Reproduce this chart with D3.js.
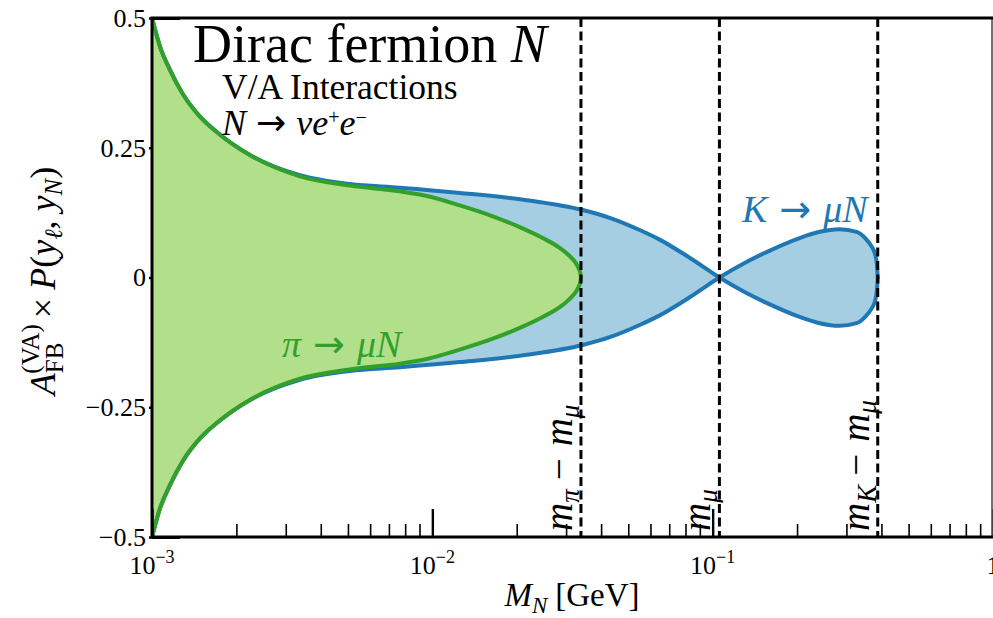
<!DOCTYPE html>
<html>
<head>
<meta charset="utf-8">
<script src="https://cdn.jsdelivr.net/npm/d3@7/dist/d3.min.js"></script>
<style>
  html, body { margin: 0; padding: 0; background: #fff; }
  svg { display: block; }
  text { font-family: "Liberation Serif", "DejaVu Serif", serif; fill: #000; }
  .arrow { font-family: "DejaVu Sans", sans-serif; }
</style>
</head>
<body>
<svg id="chart" width="993" height="618"></svg>
<script>
// Heavy neutral lepton mass M_N [GeV] and the upper edge of the band
// A_FB^(VA) x P(y_l, y_N); each band is symmetric, lower edge = -upper.
const piMass  = [0.001, 0.001068, 0.001159, 0.00129, 0.001483, 0.001706, 0.002236,
                 0.00337, 0.00508, 0.00766, 0.00956, 0.01253, 0.01643, 0.02051,
                 0.02476, 0.02848, 0.03092, 0.03248, 0.03329, 0.03370, 0.0339];
const piUpper = [0.500, 0.445, 0.400, 0.353, 0.310, 0.280, 0.236,
                 0.195, 0.177, 0.166, 0.157, 0.139, 0.118, 0.097,
                 0.076, 0.057, 0.041, 0.028, 0.0175, 0.009, 0.0];

const kMass   = [0.001, 0.001068, 0.001159, 0.00129, 0.001483, 0.001706, 0.002236,
                 0.00337, 0.00508, 0.00766, 0.01253, 0.02173, 0.0344, 0.04293,
                 0.0549, 0.0647, 0.0828, 0.1057, 0.130, 0.1557, 0.2042, 0.2407,
                 0.2837, 0.3262, 0.3512, 0.3687, 0.3795, 0.3852, 0.388];
const kUpper  = [0.500, 0.445, 0.400, 0.353, 0.310, 0.280, 0.236,
                 0.197, 0.180, 0.173, 0.163, 0.149, 0.130, 0.115,
                 0.0915, 0.073, 0.038, 0.0, -0.028, -0.049, -0.076, -0.088,
                 -0.093, -0.088, -0.075, -0.060, -0.045, -0.025, 0.0];

// Kinematic thresholds [GeV]: m_pi - m_mu, m_mu, m_K - m_mu
const thresholdMass  = [0.0339, 0.1057, 0.3880];
const thresholdNames = ["pi", "mu", "K"];

const xMajorTicks = [0.001, 0.01, 0.1, 1];
const xTickExponents = ["\u22123", "\u22122", "\u22121", ""];
const yTicks = [-0.5, -0.25, 0, 0.25, 0.5];
const yTickLabels = ["\u22120.5", "\u22120.25", "0", "0.25", "0.5"];

const colors = {
  kLine: "#1f78b4", kFill: "#a6cee3",
  piLine: "#33a02c", piFill: "#b2df8a"
};

const svg = d3.select("#chart");
const plotL = 152, plotR = 993, plotT = 18, plotB = 537;

const x = d3.scaleLog().domain([1e-3, 1]).range([plotL, plotR]);
const y = d3.scaleLinear().domain([-0.5, 0.5]).range([plotB, plotT]);

svg.append("defs").append("clipPath").attr("id", "plotClip")
  .append("rect").attr("x", plotL).attr("y", plotT).attr("width", plotR - plotL).attr("height", plotB - plotT);

const plot = svg.append("g").attr("clip-path", "url(#plotClip)");

const kData = kMass.map((m, i) => ({ m, v: kUpper[i] }));
const piData = piMass.map((m, i) => ({ m, v: piUpper[i] }));

const curve = d3.curveMonotoneX;
const area = d3.area().curve(curve).x(d => x(d.m)).y0(d => y(-d.v)).y1(d => y(d.v));
const lineUp = d3.line().curve(curve).x(d => x(d.m)).y(d => y(d.v));
const lineDn = d3.line().curve(curve).x(d => x(d.m)).y(d => y(-d.v));

// Filled bands
plot.append("path").datum(kData).attr("d", area).attr("fill", colors.kFill);
plot.append("path").datum(piData).attr("d", area).attr("fill", colors.piFill);

// Band edges
const drawEdges = (data, color) => {
  [lineUp, lineDn].forEach(gen => {
    plot.append("path").datum(data).attr("d", gen)
      .attr("fill", "none").attr("stroke", color).attr("stroke-width", 4)
      .attr("stroke-linejoin", "round").attr("stroke-linecap", "round");
  });
};
drawEdges(kData, colors.kLine);
drawEdges(piData, colors.piLine);

// Threshold lines
plot.selectAll("line.thr").data(thresholdMass).enter().append("line")
  .attr("class", "thr")
  .attr("x1", d => x(d)).attr("x2", d => x(d))
  .attr("y1", plotT).attr("y2", plotB)
  .attr("stroke", "#000").attr("stroke-width", 3)
  .attr("stroke-dasharray", "9,4.5");

// Threshold labels, rotated along the dashed lines
const thrLabel = (name, g) => {
  const t = g.append("text").attr("font-size", 39);
  t.append("tspan").attr("font-style", "italic").text("m");
  if (name !== "mu") {
    t.append("tspan").attr("font-style", "italic").attr("font-size", 27).attr("dy", 7)
      .text(name === "pi" ? "\u03c0" : "K");
    t.append("tspan").attr("dy", -7).attr("dx", 9).text("\u2212");
    t.append("tspan").attr("font-style", "italic").attr("dx", 12).text("m");
    t.append("tspan").attr("font-style", "italic").attr("font-size", 27).attr("dy", 7).text("\u03bc");
  } else {
    t.append("tspan").attr("font-style", "italic").attr("font-size", 27).attr("dy", 7).text("\u03bc");
  }
};
thresholdMass.forEach((m, i) => {
  const g = svg.append("g").attr("transform", `translate(${x(m) - 9},531) rotate(-90)`);
  thrLabel(thresholdNames[i], g);
});

// Axes: minor and major ticks pointing inward
const minorVals = [];
[-3, -2, -1].forEach(e => { for (let k = 2; k <= 9; k++) minorVals.push(k * Math.pow(10, e)); });

svg.append("g").attr("transform", `translate(0,${plotB})`)
  .call(d3.axisBottom(x).tickValues(minorVals).tickSize(-13).tickFormat(""))
  .call(g => g.select(".domain").remove())
  .call(g => g.selectAll("line").attr("stroke", "#000").attr("stroke-width", 1.6));

svg.append("g").attr("transform", `translate(0,${plotB})`)
  .call(d3.axisBottom(x).tickValues(xMajorTicks).tickSize(-28).tickFormat(""))
  .call(g => g.select(".domain").remove())
  .call(g => g.selectAll("line").attr("stroke", "#000").attr("stroke-width", 2.4));

svg.append("g").attr("transform", `translate(${plotL},0)`)
  .call(d3.axisLeft(y).tickValues(yTicks).tickSize(3).tickFormat(""))
  .call(g => g.select(".domain").remove())
  .call(g => g.selectAll("line").attr("stroke", "#000").attr("stroke-width", 2.4));

svg.append("g").attr("transform", `translate(${plotL},0)`)
  .call(d3.axisLeft(y).tickValues([-0.5, 0.5]).tickSize(-28).tickFormat(""))
  .call(g => g.select(".domain").remove())
  .call(g => g.selectAll("line").attr("stroke", "#000").attr("stroke-width", 3));

// Frame
svg.append("line").attr("x1", plotR - 1).attr("x2", plotR - 1).attr("y1", plotT).attr("y2", plotB)
  .attr("stroke", "#444").attr("stroke-width", 1.5);
svg.append("path")
  .attr("d", `M${plotR},${plotT}H${plotL}V${plotB}H${plotR}`)
  .attr("fill", "none").attr("stroke", "#000").attr("stroke-width", 3);

// Tick labels
yTicks.forEach((v, i) => {
  svg.append("text").attr("x", 146).attr("y", y(v)).attr("dy", "0.34em")
    .attr("text-anchor", "end").attr("font-size", 26).text(yTickLabels[i]);
});
xMajorTicks.forEach((v, i) => {
  const t = svg.append("text").attr("x", x(v)).attr("y", 574)
    .attr("text-anchor", "middle").attr("font-size", 26);
  if (xTickExponents[i] === "") { t.text("1"); return; }
  t.append("tspan").text("10");
  t.append("tspan").attr("font-size", 18).attr("dy", -11).text(xTickExponents[i]);
});

// Axis titles
const xl = svg.append("text").attr("x", 572).attr("y", 606).attr("text-anchor", "middle").attr("font-size", 33);
xl.append("tspan").attr("font-style", "italic").text("M");
xl.append("tspan").attr("font-style", "italic").attr("font-size", 23).attr("dy", 7).text("N");
xl.append("tspan").attr("dy", -7).attr("dx", 8).text("[GeV]");

const yl = svg.append("text").attr("transform", "translate(55,281) rotate(-90)")
  .attr("text-anchor", "middle").attr("font-size", 36);
yl.append("tspan").attr("font-style", "italic").text("A");
yl.append("tspan").attr("font-size", 25).attr("dy", 8).text("FB");
yl.append("tspan").attr("font-size", 25).attr("dx", -31).attr("dy", -24).text("(VA)");
yl.append("tspan").attr("dy", 16).attr("dx", 6).text("\u00d7");
yl.append("tspan").attr("font-style", "italic").attr("dx", 8).text("P");
yl.append("tspan").text("(");
yl.append("tspan").attr("font-style", "italic").text("y");
yl.append("tspan").attr("font-style", "italic").attr("font-size", 25).attr("dy", 7).text("\u2113");
yl.append("tspan").attr("dy", -7).text(", ");
yl.append("tspan").attr("font-style", "italic").text("y");
yl.append("tspan").attr("font-style", "italic").attr("font-size", 25).attr("dy", 7).text("N");
yl.append("tspan").attr("dy", -7).text(")");

// Annotations
const title = svg.append("text").attr("x", 193).attr("y", 62).attr("font-size", 54);
title.append("tspan").text("Dirac fermion ");
title.append("tspan").attr("font-style", "italic").text("N");

svg.append("text").attr("x", 222).attr("y", 99).attr("font-size", 35.5).text("V/A Interactions");

// "a → b" with relation spacing on both sides of the arrow
const relation = (t, lhs, rhs, size, pad) => {
  t.append("tspan").attr("font-style", "italic").text(lhs);
  t.append("tspan").attr("class", "arrow").attr("font-size", size).attr("dx", pad).text("\u2192");
  return t.append("tspan").attr("font-style", "italic").attr("dx", pad).text(rhs);
};

const dec = svg.append("text").attr("x", 222).attr("y", 135).attr("font-size", 36);
relation(dec, "N", "\u03bde", 36, 10);
dec.append("tspan").attr("font-size", 20).attr("dy", -11).text("+");
dec.append("tspan").attr("font-style", "italic").attr("dy", 11).text("e");
dec.append("tspan").attr("font-size", 20).attr("dy", -11).text("\u2212");

const kl = svg.append("text").attr("x", 742).attr("y", 222).attr("font-size", 38).style("fill", colors.kLine);
relation(kl, "K", "\u03bcN", 38, 12);
kl.selectAll(".arrow").style("fill", colors.kLine);

const pl = svg.append("text").attr("x", 282).attr("y", 357).attr("font-size", 38).style("fill", colors.piLine);
relation(pl, "\u03c0", "\u03bcN", 38, 12);
pl.selectAll(".arrow").style("fill", colors.piLine);
</script>
</body>
</html>
